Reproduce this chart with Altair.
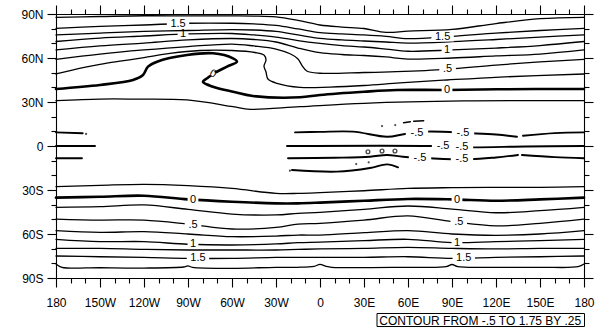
import altair as alt
import numpy as np
import pandas as pd

FONT = "Liberation Sans"

# ---------------- Southern hemisphere contours (lat at each lon) ----------------
SH_LONS = [-180, -150, -120, -90, -60, -30, -15, 0, 30, 60, 90, 120, 150, 180]
SH_M025 = [-27.7, -26.8, -26.1, -27.0, -28.9, -32.3, -32.3, -31.8, -30.5, -28.9, -28.4, -28.2, -28.2, -27.7]
SH_000 = [-35.2, -34.6, -33.9, -36.4, -38.0, -39.1, -39.1, -38.6, -37.3, -36.1, -36.4, -37.3, -36.4, -35.2]
SH_025 = [-41.8, -41.4, -40.2, -43.2, -46.4, -47.0, -45.9, -45.2, -43.2, -40.9, -43.0, -45.5, -44.1, -41.8]
SH_050 = [-49.8, -50.5, -50.5, -53.2, -56.6, -55.5, -53.2, -52.7, -50.5, -47.7, -51.6, -54.5, -52.7, -49.8]
SH_075 = [-57.7, -58.9, -58.4, -60.0, -61.8, -61.4, -60.7, -60.7, -59.1, -57.7, -60.0, -60.9, -60.0, -57.7]
SH_100 = [-63.6, -65.2, -65.2, -67.0, -67.5, -66.8, -65.9, -65.5, -64.5, -63.6, -65.9, -65.2, -64.5, -63.6]
SH_125 = [-69.8, -69.8, -70.5, -70.9, -70.9, -70.9, -70.5, -70.2, -69.8, -69.1, -69.8, -70.2, -69.8, -69.8]
SH_150 = [-75.0, -75.5, -75.9, -76.6, -76.6, -75.9, -75.9, -75.9, -75.9, -75.5, -76.6, -75.9, -75.5, -75.0]
SH_175_LONS = [-180, -176, -150, -120, -93, -90, -87, -60, -30, -15, -4, 0, 4, 8, 60, 86, 90, 94, 120, 150, 176, 180]
SH_175 = [-80.5, -82.7, -83.0, -83.2, -82.5, -81.8, -82.7, -83.4, -82.7, -82.7, -82.0, -80.7, -82.0, -82.7,
          -82.7, -82.3, -80.8, -82.3, -82.7, -82.7, -82.3, -80.5]

# ---------------- Northern hemisphere contours ----------------
NH_LONS = [-180, -150, -120, -90, -60, -45, -30, -15, 0, 15, 30, 45, 60, 90, 120, 150, 180]
NH_175 = [87.75, 88.3, 88.8, 88.7, 88.7, 88.6, 88.0, 85.6, 82.5, 81.1, 80.1, 77.5, 78.3, 79.5, 83.5, 86.8, 87.75]
NH_150 = [80.25, 81.5, 82.5, 83.7, 83.7, 83.2, 82.2, 79.8, 77.25, 76.4, 75.7, 74.7, 73.2, 74.8, 77.0, 78.75, 80.25]
NH_125 = [75.7, 77.0, 78.1, 78.75, 79.4, 79.1, 78.1, 75.7, 73.4, 72.3, 71.6, 70.9, 70.2, 71.1, 72.6, 74.3, 75.7]
NH_100 = [71.25, 73.6, 75.0, 76.4, 76.7, 75.7, 74.3, 71.9, 70.0, 68.5, 67.5, 66.1, 64.6, 65.5, 66.8, 68.5, 71.25]
NH_075 = [65.5, 68.2, 70.2, 72.3, 73.3, 72.6, 70.9, 66.8, 63.6, 62.4, 61.7, 60.7, 59.3, 60.0, 61.4, 62.7, 65.5]
NH_050_LONS = [-180, -150, -120, -90, -60, -45, -30, -20, -15, -12, -9, 0, 30, 52, 86, 120, 150, 180]
NH_050 = [59.1, 62.7, 65.5, 67.8, 69.5, 68.2, 66.1, 62.7, 59.3, 54.5, 51.1, 49.6, 50.1, 50.7, 52.3, 55.2, 57.3, 59.1]
NH_025_LONS = [-180, -161.6, -150, -135, -120, -102.3, -81.8, -60, -44.3, -38.2, -36.8, -38.2, -36.8, -35.5,
               -29.3, -13.6, 6.8, 30, 54.5, 86.6, 122.7, 180]
NH_025 = [49.1, 53.4, 55.6, 58.0, 60.3, 63.1, 65.1, 65.1, 63.75, 62.0, 58.6, 54.5, 50.45, 45.7,
          42.75, 40.0, 40.2, 41.25, 43.0, 45.0, 47.0, 49.1]
NH_000_LONS = [-180, -150, -127.5, -120.7, -117.3, -111.1, -90.7, -73, -59.3, -56.6, -63.4, -73, -77.0, -79.8,
               -73, -59.3, -45.7, -13.6, 0, 30, 52.5, 86.6, 120.7, 180]
NH_000 = [38.9, 41.6, 45.0, 48.4, 54.1, 57.5, 62.0, 63.2, 59.8, 57.5, 54.1, 49.1, 46.2, 43.8,
          40.4, 37.0, 34.1, 33.2, 34.8, 37.0, 38.2, 38.2, 38.7, 38.9]
NH_M025_LONS = [-180, -150, -127.5, -90.7, -59.3, -47.7, -13.6, 30, 98.2, 180]
NH_M025 = [30.9, 32.0, 32.0, 31.4, 26.8, 25.0, 26.8, 29.1, 30.7, 30.9]

# ---------------- Equatorial -0.5 contours ----------------
E1A_LONS = [-17.0, 0, 22.5, 45.7, 58, 73, 102.3, 120, 134.3]
E1A = [9.3, 9.6, 9.8, 6.3, 8.2, 9.8, 8.7, 7.8, 6.3]
E1B_LONS = [138.4, 160, 180]
E1B = [7.0, 8.8, 9.3]
E1C_LONS = [-180, -161.8]
E1C = [9.3, 8.7]
E2A_LONS = [-22.5, 77, 102.3, 140, 180]
E2A = [0.0, 0.0, -0.9, -0.3, 0.0]
E2B_LONS = [-180, -153.4]
E2B = [0.0, 0.0]
E3A_LONS = [-21.8, 10, 34.1, 45.7, 56.6, 75, 102.3, 120, 135]
E3A = [-8.4, -8.0, -7.3, -6.1, -7.3, -8.4, -9.1, -7.8, -6.1]
E3B_LONS = [137.7, 160, 180]
E3B = [-6.1, -7.6, -8.4]
E3C_LONS = [-180, -162.3]
E3C = [-8.4, -8.4]
E4_LONS = [-19.1, 11.6, 34.1, 45.7, 53.2]
E4 = [-16.4, -17.5, -15.0, -12.5, -14.5]
DASH1_LONS = [57, 61.6]
DASH1 = [15.9, 16.6]
DASH2_LONS = [63.9, 70.7]
DASH2 = [16.9, 17.3]

RING_LONS = [32.7, 42.3, 51.1]
RING_LATS = [-3.9, -3.4, -3.4]
DOT_LONS = [24.7, 33.2, -20.5, -159.5, 42.3, 51.3]
DOT_LATS = [-12.3, -11.1, -16.8, 8.2, 13.6, 14.3]

THIN, ZERO, EQ = 1.3, 2.6, 1.9
LINES = {
    "sh_m025": (SH_LONS, SH_M025, THIN), "sh_000": (SH_LONS, SH_000, ZERO),
    "sh_025": (SH_LONS, SH_025, THIN), "sh_050": (SH_LONS, SH_050, THIN),
    "sh_075": (SH_LONS, SH_075, THIN), "sh_100": (SH_LONS, SH_100, THIN),
    "sh_125": (SH_LONS, SH_125, THIN), "sh_150": (SH_LONS, SH_150, THIN),
    "sh_175": (SH_175_LONS, SH_175, THIN),
    "nh_175": (NH_LONS, NH_175, THIN), "nh_150": (NH_LONS, NH_150, THIN),
    "nh_125": (NH_LONS, NH_125, THIN), "nh_100": (NH_LONS, NH_100, THIN),
    "nh_075": (NH_LONS, NH_075, THIN), "nh_050": (NH_050_LONS, NH_050, THIN),
    "nh_025": (NH_025_LONS, NH_025, THIN), "nh_000": (NH_000_LONS, NH_000, ZERO),
    "nh_m025": (NH_M025_LONS, NH_M025, THIN),
    "e1a": (E1A_LONS, E1A, EQ), "e1b": (E1B_LONS, E1B, EQ), "e1c": (E1C_LONS, E1C, EQ),
    "e2a": (E2A_LONS, E2A, EQ), "e2b": (E2B_LONS, E2B, EQ),
    "e3a": (E3A_LONS, E3A, EQ), "e3b": (E3B_LONS, E3B, EQ), "e3c": (E3C_LONS, E3C, EQ),
    "e4": (E4_LONS, E4, EQ), "d1": (DASH1_LONS, DASH1, 1.5), "d2": (DASH2_LONS, DASH2, 1.5),
}

# labels: text, lon, line name (lat interpolated on that line) or explicit lat, angle
LABELS = [
    ("1.5", -96.8, "nh_150", None, 0), ("1", -93.4, "nh_100", None, 0),
    ("0", -73.0, None, 49.1, 30),
    ("1.5", 83.6, "nh_150", None, 0), ("1", 86.6, "nh_100", None, 0),
    (".5", 87.0, "nh_050", None, 0), ("0", 86.6, None, 38.2, 0),
    ("-.5", 66.1, "e1a", None, 0), ("-.5", 97.5, "e1a", None, 0),
    ("-.5", 83.9, "e2a", None, 0), ("-.5", 96.8, "e2a", None, 0),
    ("-.5", 68.2, "e3a", None, 0), ("-.5", 96.8, "e3a", None, 0),
    ("0", -86.6, "sh_000", None, 0), (".5", -86.6, "sh_050", None, 0),
    ("1", -86.6, "sh_100", None, 0), ("1.5", -83.2, "sh_150", None, 0),
    ("0", 93.4, "sh_000", None, 0), (".5", 94.6, "sh_050", None, 0),
    ("1", 93.4, "sh_100", None, 0), ("1.5", 98.0, "sh_150", None, 0),
]

INFO = "CONTOUR FROM -.5 TO 1.75 BY .25"

rows = []
for name, (lons, lats, w) in LINES.items():
    for i, (lo, la) in enumerate(zip(lons, lats)):
        rows.append({"seg": name, "idx": i, "lon": lo, "lat": la, "w": w})
lines_df = pd.DataFrame(rows)

lab_rows = []
for text, lon, line, lat, ang in LABELS:
    if lat is None:
        lons, lats, _ = LINES[line]
        lat = float(np.interp(lon, lons, lats))
    gap = 5.8 * len(text) + 5  # width of the white gap cut into the line
    lab_rows.append({"text": text, "lon": lon, "lat": lat, "angle": ang, "gap": gap * gap})
labels_df = pd.DataFrame(lab_rows)

rings_df = pd.DataFrame({"lon": RING_LONS, "lat": RING_LATS})
dots_df = pd.DataFrame({"lon": DOT_LONS, "lat": DOT_LATS})

xs = alt.Scale(domain=[-180, 180], nice=False, zero=False)
ys = alt.Scale(domain=[-90, 90], nice=False, zero=False)
TICK = {"condition": {"test": "datum.value % 30 === 0", "value": 9}, "value": 5}
XVALS = list(range(-180, 181, 10))
YVALS = list(range(-90, 91, 10))
XLAB = ("datum.value % 30 !== 0 ? '' : (datum.value == 0 ? '0' : (abs(datum.value) == 180 ? '180' : "
        "(datum.value < 0 ? (-datum.value) + 'W' : datum.value + 'E')))")
YLAB = ("datum.value % 30 !== 0 ? '' : (datum.value == 0 ? '0' : "
        "(datum.value < 0 ? (-datum.value) + 'S' : datum.value + 'N'))")

common = dict(domainColor="black", domainWidth=1.1, tickColor="black", tickWidth=1.1, grid=False,
              title=None, labelFont=FONT, labelFontSize=12, labelColor="black",
              labelFlush=False, labelOverlap=False, tickSize=TICK)

x_bottom = alt.X("lon:Q", scale=xs, axis=alt.Axis(orient="bottom", values=XVALS, labelExpr=XLAB,
                                                  labelPadding=10, **common))
y_left = alt.Y("lat:Q", scale=ys, axis=alt.Axis(orient="left", values=YVALS, labelExpr=YLAB,
                                               labelPadding=4, **common))
x_top = alt.X("lon:Q", scale=xs, axis=alt.Axis(orient="top", values=XVALS, labels=False, **common))
y_right = alt.Y("lat:Q", scale=ys, axis=alt.Axis(orient="right", values=YVALS, labels=False, **common))
x_plain = alt.X("lon:Q", scale=xs, axis=None)
y_plain = alt.Y("lat:Q", scale=ys, axis=None)

contours = alt.Chart(lines_df).mark_line(
    color="black", interpolate="catmull-rom", strokeCap="round", strokeJoin="round"
).encode(
    x=x_bottom, y=y_left, detail="seg:N", order="idx:Q",
    strokeWidth=alt.StrokeWidth("w:Q", scale=None),
)

frame = alt.Chart(lines_df).mark_point(opacity=0).encode(x=x_top, y=y_right)

gaps = alt.Chart(labels_df).mark_point(
    shape="M-1,-0.42L1,-0.42L1,0.42L-1,0.42Z", filled=True, fill="white", stroke=None, opacity=1
).encode(x=x_plain, y=y_plain, size=alt.Size("gap:Q", scale=None),
         angle=alt.Angle("angle:Q", scale=None))

texts = alt.Chart(labels_df).mark_text(
    color="black", font=FONT, fontSize=11, baseline="middle", align="center"
).encode(x=x_plain, y=y_plain, text="text:N", angle=alt.Angle("angle:Q", scale=None))

rings = alt.Chart(rings_df).mark_point(
    shape="circle", filled=False, color="black", size=14, strokeWidth=1.4
).encode(x=x_plain, y=y_plain)

dots = alt.Chart(dots_df).mark_point(
    shape="circle", filled=True, color="black", size=5
).encode(x=x_plain, y=y_plain)

info_df = pd.DataFrame({"text": [INFO]})
box = alt.Chart(info_df).mark_rect(fillOpacity=0, stroke="black", strokeWidth=1).encode(
    x=alt.value(321), x2=alt.value(528.5), y=alt.value(299.5), y2=alt.value(312.5)
)
info = alt.Chart(info_df).mark_text(
    color="black", font=FONT, fontSize=12, align="left", baseline="alphabetic"
).encode(x=alt.value(323.3), y=alt.value(311), text="text:N")

chart = alt.layer(contours, frame, gaps, texts, rings, dots, box, info).resolve_axis(
    x="independent", y="independent"
).properties(
    width=528, height=264,
    padding={"left": 56, "top": 14, "right": 13, "bottom": 53},
    autosize=alt.AutoSizeParams(type="none"),
).configure_view(stroke=None)

chart.save("out.html", embed_options={"renderer": "svg", "actions": False})
